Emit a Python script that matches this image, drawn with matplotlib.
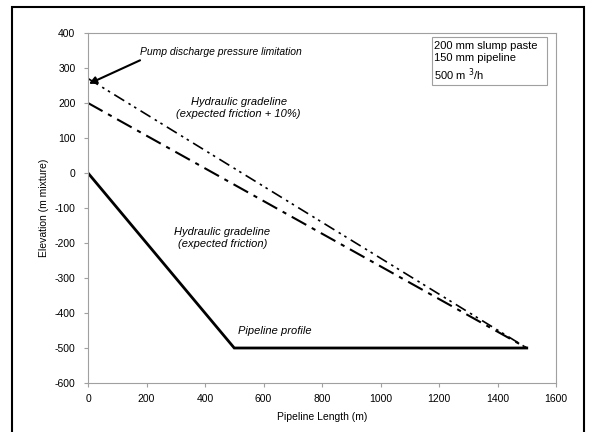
import matplotlib
matplotlib.use("Agg")
import matplotlib.pyplot as plt
from matplotlib.patches import Rectangle

plt.rcParams['font.family'] = ['Liberation Sans', 'DejaVu Sans']
plt.rcParams['axes.unicode_minus'] = False

# Data
profile_x = [0, 500, 1500]
profile_y = [0, -500, -500]
hgl_x = [0, 1500]
hgl_y = [200, -500]
hgl10_x = [0, 1500]
hgl10_y = [270, -500]
xticks = [0, 200, 400, 600, 800, 1000, 1200, 1400, 1600]
yticks = [400, 300, 200, 100, 0, -100, -200, -300, -400, -500, -600]

fig = plt.figure(figsize=(5.92, 4.32), dpi=100)
ax = fig.add_axes([88/592, 1-383/432, (556-88)/592, (383-33)/432])

ax.plot(profile_x, profile_y, color='black', lw=2.0, solid_joinstyle='miter')
ax.plot(hgl_x, hgl_y, color='black', lw=1.5, dashes=[8, 3, 2, 3])
ax.plot(hgl10_x, hgl10_y, color='black', lw=1.2, dashes=[7, 3, 1.5, 2.5, 1.5, 3])

ax.set_xlim(0, 1600)
ax.set_ylim(-600, 400)
ax.set_xticks(xticks)
ax.set_yticks(yticks)
for s in ax.spines.values():
    s.set_color('#a0a0a0')
    s.set_linewidth(0.8)
ax.tick_params(direction='out', length=3, color='#a0a0a0', labelsize=7.5,
               width=0.8)
ax.tick_params(axis='x', pad=5)
ax.tick_params(axis='y', pad=6)
ax.set_xlabel('Pipeline Length (m)', fontsize=7.5, labelpad=6)
ax.set_ylabel('Elevation (m mixture)', fontsize=7.5, labelpad=4)

ax.text(178, 346, 'Pump discharge pressure limitation', fontsize=7.5,
        style='italic', va='center', ha='left')
ax.annotate('', xy=(3, 255), xytext=(178, 322),
            arrowprops=dict(arrowstyle='-|>', color='black', lw=1.5,
                            mutation_scale=11, shrinkA=0, shrinkB=0))
ax.text(515, 185, 'Hydraulic gradeline\n(expected friction + 10%)', fontsize=8,
        style='italic', ha='center', va='center', linespacing=1.3)
ax.text(460, -185, 'Hydraulic gradeline\n(expected friction)', fontsize=8,
        style='italic', ha='center', va='center', linespacing=1.3)
ax.text(640, -452, 'Pipeline profile', fontsize=8, style='italic',
        ha='center', va='center')

ax.add_patch(Rectangle((0.735, 0.851), 0.981-0.735, 0.9886-0.851,
                       transform=ax.transAxes, fc='white', ec='#a0a0a0',
                       lw=0.8, zorder=3))
ax.text(0.740, 0.977, '200 mm slump paste\n150 mm pipeline\n500 m $^3$/h',
        transform=ax.transAxes, fontsize=8, ha='left', va='top',
        linespacing=1.25, zorder=4)

fig.patches.append(Rectangle((12/592, -0.05), (584-12)/592, 1.05-7/432,
                             transform=fig.transFigure, fill=False,
                             ec='black', lw=1.5))

fig.savefig('out.png', dpi=100)
